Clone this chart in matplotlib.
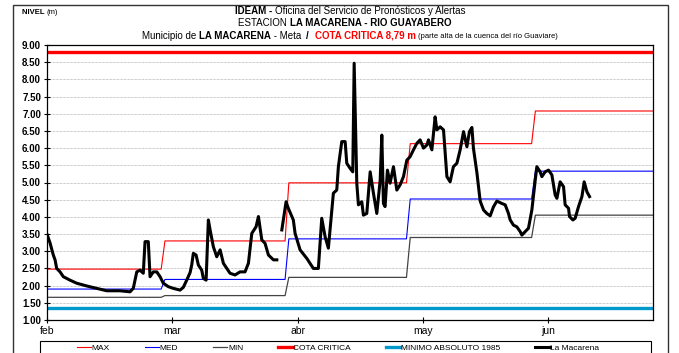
import numpy as np
import matplotlib
matplotlib.use("Agg")
import matplotlib.pyplot as plt
from matplotlib.patches import Rectangle

plt.rcParams['font.family'] = ['Liberation Sans', 'DejaVu Sans']

# eje x en meses (0 = 1 feb, 1 = 1 mar, ...)
meses = ['feb', 'mar', 'abr', 'may', 'jun']
x_fin = 4.84

# valores mensuales historicos (m)
nivel_max = [2.48, 3.30, 4.99, 6.13, 7.08]
nivel_med = [1.90, 2.18, 3.36, 4.52, 5.33]
nivel_min = [1.66, 1.71, 2.24, 3.40, 4.05]
cambio_mes = [0.91, 1.90, 2.87, 3.87]   # donde cambia el valor mensual
rampa = 0.03

cota_critica = 8.79
minimo_1985 = 1.35

# nivel observado estacion La Macarena
t_obs = [0.000, 0.022, 0.048, 0.062, 0.075, 0.102, 0.128, 0.181, 0.235, 0.315,
         0.395, 0.475, 0.581, 0.661, 0.687, 0.701, 0.715, 0.741, 0.767, 0.781,
         0.807, 0.821, 0.847, 0.875, 0.901, 0.927, 0.967, 1.007, 1.061, 1.087,
         1.114, 1.141, 1.154, 1.167, 1.189, 1.207, 1.234, 1.247, 1.269, 1.287,
         1.301, 1.327, 1.354, 1.381, 1.407, 1.434, 1.460, 1.500, 1.540, 1.580,
         1.607, 1.634, 1.668, 1.687, 1.714, 1.740, 1.767, 1.807, 1.834, 1.854,
         1.874, 1.908, 1.926, 1.966, 1.980, 2.020, 2.074, 2.126, 2.166, 2.193,
         2.220, 2.246, 2.286, 2.313, 2.326, 2.353, 2.380, 2.393, 2.420, 2.441,
         2.452, 2.473, 2.486, 2.513, 2.526, 2.553, 2.580, 2.606, 2.633, 2.660,
         2.673, 2.686, 2.699, 2.718, 2.739, 2.766, 2.793, 2.819, 2.846, 2.873,
         2.899, 2.926, 2.953, 2.979, 3.006, 3.033, 3.046, 3.073, 3.099, 3.113,
         3.139, 3.166, 3.193, 3.219, 3.245, 3.273, 3.299, 3.326, 3.353, 3.373,
         3.393, 3.405, 3.433, 3.459, 3.486, 3.512, 3.539, 3.565, 3.592, 3.632,
         3.659, 3.685, 3.699, 3.725, 3.752, 3.779, 3.792, 3.819, 3.845, 3.872,
         3.899, 3.912, 3.938, 3.952, 3.978, 4.005, 4.032, 4.058, 4.072, 4.098,
         4.125, 4.138, 4.165, 4.173, 4.200, 4.218, 4.245, 4.272, 4.290, 4.312,
         4.333]
h_obs = [3.47, 3.24, 2.89, 2.75, 2.50, 2.40, 2.26, 2.16, 2.07, 1.99,
         1.92, 1.85, 1.85, 1.82, 1.92, 2.16, 2.40, 2.45, 2.36, 3.28,
         3.28, 2.26, 2.40, 2.40, 2.26, 2.07, 1.97, 1.92, 1.87, 1.95,
         2.16, 2.38, 2.60, 2.94, 2.89, 2.60, 2.45, 2.21, 2.16, 3.91,
         3.62, 3.13, 2.84, 3.04, 2.65, 2.50, 2.36, 2.31, 2.40, 2.40,
         2.65, 3.52, 3.71, 4.01, 3.33, 3.23, 2.89, 2.75, 2.75, np.nan,
         3.62, 4.44, 4.25, 3.91, 3.52, 3.04, 2.79, 2.50, 2.50, 3.96,
         3.42, 3.09, 4.69, 4.78, 5.46, 6.19, 6.19, 5.56, 5.41, 5.31,
         8.47, 4.98, 4.35, 4.44, 4.05, 4.10, 5.31, 4.69, 4.10, 5.07,
         6.38, 4.39, 4.30, 5.36, 4.98, 5.46, 4.78, 4.93, 5.17, 5.65,
         5.75, 5.95, 6.14, 6.24, 6.00, 6.09, 6.24, 5.95, 6.91, 6.53,
         6.62, 6.53, 5.17, 5.02, 5.46, 5.56, 5.95, 6.48, 6.04, 6.48,
         6.60, 6.00, 5.28, 4.46, 4.20, 4.10, 4.03, 4.29, 4.46, 4.39,
         4.35, 4.10, 3.91, 3.76, 3.71, 3.57, 3.47, 3.57, 3.67, 4.20,
         5.07, 5.46, 5.31, 5.17, 5.31, 5.36, 5.22, 4.64, 4.54, 5.02,
         4.88, 4.35, 4.25, 4.01, 3.91, 3.96, 4.30, 4.59, 5.02, 4.73,
         4.59]


def escalones(valores):
    xs, ys = [0.0], [valores[0]]
    for i, c in enumerate(cambio_mes):
        xs += [c, c + rampa]
        ys += [valores[i], valores[i + 1]]
    xs.append(x_fin)
    ys.append(valores[-1])
    return xs, ys


fig = plt.figure(figsize=(6.79, 3.53), dpi=100)
ax = fig.add_axes([47.3 / 679, 1 - 320 / 353, (653 - 47.3) / 679, 275 / 353])

l_max, = ax.plot(*escalones(nivel_max), color='#FF0000', lw=0.8, label='MAX')
l_med, = ax.plot(*escalones(nivel_med), color='#0000FF', lw=0.8, label='MED')
l_min, = ax.plot(*escalones(nivel_min), color='#444444', lw=0.9, label='MIN')
l_cota = ax.axhline(cota_critica, color='#FF0000', lw=2.4, label='COTA CRITICA')
l_abs = ax.axhline(minimo_1985, color='#0099CC', lw=2.4, label='MINIMO ABSOLUTO 1985')
l_obs, = ax.plot(t_obs, h_obs, color='black', lw=2.2, label='La Macarena')

ax.set_xlim(0, x_fin)
ax.set_ylim(1, 9)
ax.set_yticks(np.arange(1, 9.01, 0.5))
ax.set_yticklabels(['%.2f' % v for v in np.arange(1, 9.01, 0.5)],
                   fontsize=7, fontweight='bold')
ax.set_xticks(range(len(meses)))
ax.set_xticklabels(meses, fontsize=7.5)
ax.tick_params(axis='both', direction='inout', length=5, width=0.8)
ax.tick_params(axis='x', pad=1.5)
ax.tick_params(axis='y', pad=2)
ax.yaxis.grid(True, color='#999999', ls=(0, (1, 1)), lw=0.5)
for s in ax.spines.values():
    s.set_linewidth(0.9)

# marco exterior y caja de la leyenda
fig.patches.append(Rectangle((13 / 679, -0.1), (668 - 13) / 679, 1.1 - 5 / 353,
                             transform=fig.transFigure, fill=False,
                             edgecolor='#333333', lw=1.0))
fig.patches.append(Rectangle((40 / 679, -0.1), (651 - 40) / 679, 0.1 + 12 / 353,
                             transform=fig.transFigure, fill=False,
                             edgecolor='black', lw=0.8))

fig.legend(handles=[l_max, l_med, l_min, l_cota, l_abs, l_obs],
           loc='center', bbox_to_anchor=(338 / 679, 1 - 348 / 353),
           ncol=6, fontsize=6, frameon=False,
           handlelength=1.7, handletextpad=0.1, borderpad=0.0,
           columnspacing=4.2)

renderer = fig.canvas.get_renderer()


def texto_mixto(xc, y, partes, ha='center'):
    textos = [fig.text(0, y, s, va='center', ha='left', **kw) for s, kw in partes]
    anchos = [t.get_window_extent(renderer).width for t in textos]
    total = sum(anchos)
    x = xc * fig.bbox.width - (total / 2 if ha == 'center' else 0)
    for t, w in zip(textos, anchos):
        t.set_x(x / fig.bbox.width)
        x += w


texto_mixto(22 / 679, 1 - 12 / 353,
            [('NIVEL ', dict(fontsize=5.5, fontweight='bold')),
             ('(m)', dict(fontsize=5.5))], ha='left')
texto_mixto(350 / 679, 1 - 11 / 353,
            [('IDEAM - ', dict(fontsize=7, fontweight='bold')),
             ('Oficina del Servicio de Pronósticos y Alertas', dict(fontsize=7))])
texto_mixto(345 / 679, 1 - 23 / 353,
            [('ESTACION ', dict(fontsize=7)),
             ('LA MACARENA - RIO GUAYABERO', dict(fontsize=7, fontweight='bold'))])
texto_mixto(350 / 679, 1 - 36 / 353,
            [('Municipio de ', dict(fontsize=7)),
             ('LA MACARENA', dict(fontsize=7, fontweight='bold')),
             (' - Meta  ', dict(fontsize=7)),
             ('/  ', dict(fontsize=7, fontweight='bold')),
             ('COTA CRITICA 8,79 m ', dict(fontsize=7, fontweight='bold', color='#FF0000')),
             ('(parte alta de la cuenca del río Guaviare)', dict(fontsize=5.5))])

fig.savefig('out.png', dpi=100)
